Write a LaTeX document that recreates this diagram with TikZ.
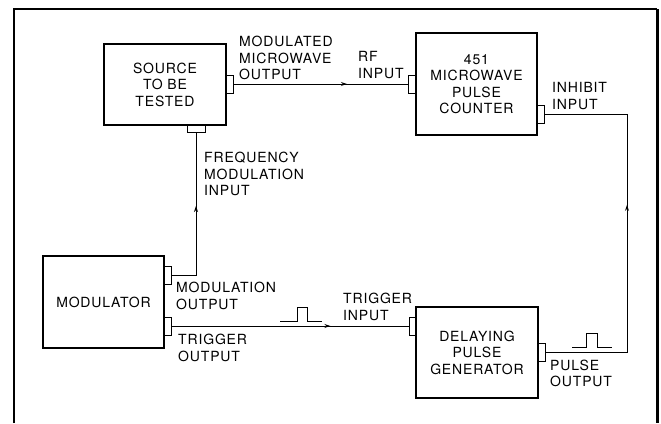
\documentclass[tikz,border=0pt]{standalone}
\usepackage{fontspec}
\newfontfamily\labfont[LetterSpace=6]{TeX Gyre Heros}
\usepackage{tikz}
\usetikzlibrary{arrows.meta, decorations.markings, positioning}

\tikzset{
    block/.style={draw, line width=1.2pt, inner sep=0pt, align=center},
    tabh/.style={draw, line width=0.9pt, inner sep=0pt, minimum width=7pt, minimum height=18pt},
    tabv/.style={draw, line width=0.9pt, inner sep=0pt, minimum width=18pt, minimum height=7pt},
    lbl/.style={anchor=west, inner sep=0pt, align=left},
    wire/.style={line width=0.9pt},
    midarrow/.style={postaction={decorate, decoration={markings,
        mark=at position #1 with {\arrow{Stealth[length=6pt, width=4pt]}}}}}
}

\begin{document}
\begin{tikzpicture}[x=1pt, y=-1pt, font=\labfont\fontsize{14}{16.5}\selectfont]
                        \useasboundingbox (0, 0) rectangle (661, 423);
                        % frame
                        \draw[line width=1.5pt] (14, 423) -- (14, 9) -- (657, 9);
                        \draw[line width=3pt] (657, 9) -- (657, 423);

                        % blocks
                        \node[block, minimum width=122pt, minimum height=81pt] (source) at (165, 84.5) {SOURCE\\TO BE\\TESTED};
                        \node[block, minimum width=121pt, minimum height=102pt] (counter) at (476.5, 84) {451\\MICROWAVE\\PULSE\\COUNTER};
                        \node[block, minimum width=121pt, minimum height=92pt] (modulator) at (103.5, 302) {MODULATOR};
                        \node[block, minimum width=122pt, minimum height=91pt] (delay) at (477, 352.5) {DELAYING\\PULSE\\GENERATOR};

                        % connector tabs
                        \node[tabh] (srcout) at (229.5, 84) {};
                        \node[tabv] (srcfm) at (196, 128.5) {};
                        \node[tabh] (cntrf) at (412, 84) {};
                        \node[tabh] (cntinh) at (541, 114.5) {};
                        \node[tabh] (modout) at (167.5, 275) {};
                        \node[tabh] (trigout) at (167.5, 326) {};
                        \node[tabh] (dlyin) at (412.5, 326) {};
                        \node[tabh] (dlyout) at (541.5, 352) {};

                        % labels
                        \node[lbl] (lmodmw) at (239, 58) {MODULATED\\MICROWAVE\\OUTPUT};
                        \node[lbl] (lrf) at (358, 65) {RF\\INPUT};
                        \node[lbl] (linh) at (552, 96) {INHIBIT\\INPUT};
                        \node[lbl] (lfm) at (204, 174) {FREQUENCY\\MODULATION\\INPUT};
                        \node[lbl] (lmodout) at (176, 296) {MODULATION\\OUTPUT};
                        \node[lbl] (ltrigout) at (178, 348) {TRIGGER\\OUTPUT};
                        \node[lbl] (ltrigin) at (343, 307) {TRIGGER\\INPUT};
                        \node[lbl] (lpulse) at (550, 373.5) {PULSE\\OUTPUT};

                        % wires
                        \draw[wire, midarrow=0.65] (srcout.east) -- (cntrf.west);
                        \draw[wire, midarrow=0.56] (modout.east) -| (srcfm.south);
                        \draw[wire, midarrow=0.67] (trigout.east) -- (dlyin.west);
                        \draw[wire, midarrow=0.57] (dlyout.east) -- (627, 352) -- (627, 114.5) -- (cntinh.east);

                        % pulse shapes
                        \draw[wire] (280, 321) -- (297, 321) -- (297, 307) -- (307, 307) -- (307, 321) -- (322, 321);
                        \draw[wire] (572, 347) -- (586, 347) -- (586, 333) -- (597, 333) -- (597, 347) -- (612, 347);
                    \end{tikzpicture}
\end{document}
